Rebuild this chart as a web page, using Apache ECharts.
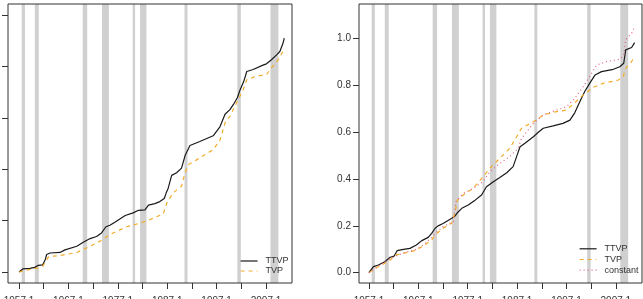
<!DOCTYPE html>
<html><head><meta charset="utf-8">
<script src="https://cdn.jsdelivr.net/npm/echarts@6/dist/echarts.min.js"></script>
<style>html,body{margin:0;padding:0;background:#fff}#c{width:643px;height:299px}</style>
</head><body><div id="c"></div>
<script>
// ---- data ----
const xTickYears = [1957,1962,1967,1972,1977,1982,1987,1992,1997,2002,2007];
const xLabelYears = [1957,1967,1977,1987,1997,2007];
const yTicksLeft = [0,1,2,3,4,5];
const yTicksRight = [0,0.2,0.4,0.6,0.8,1.0];
const recessions = [[1957.55,1958.2],[1960.2,1961.0],[1969.9,1970.8],[1973.8,1975.2],[1980.0,1980.5],[1981.5,1982.8],[1990.5,1991.1],[2001.2,2001.9],[2007.9,2009.5]];

const leftTTVPYears = [1957.0,1957.75,1959.2,1960.2,1960.9,1961.8,1962.3,1962.6,1963.3,1965.3,1966.3,1968.7,1970.0,1971.4,1972.7,1973.7,1974.6,1975.4,1976.4,1978.5,1980.1,1981.2,1982.5,1983.2,1984.5,1985.5,1986.4,1986.8,1987.2,1987.9,1988.9,1989.9,1990.6,1991.6,1993.6,1996.3,1997.7,1998.7,1999.7,2000.4,2001.2,2001.7,2002.5,2003.1,2004.4,2006.5,2007.1,2008.1,2009.2,2009.8,2010.4,2010.7];
const leftTTVPValues = [0,0.06,0.07,0.09,0.13,0.14,0.24,0.34,0.37,0.38,0.43,0.50,0.58,0.65,0.69,0.76,0.88,0.91,0.97,1.10,1.15,1.20,1.21,1.30,1.33,1.37,1.43,1.54,1.63,1.88,1.93,2.02,2.26,2.46,2.54,2.65,2.83,3.07,3.16,3.26,3.39,3.53,3.71,3.90,3.94,4.03,4.05,4.13,4.23,4.29,4.44,4.55];
const leftTVPYears = [1957.0,1959.2,1960.9,1961.8,1962.3,1963.0,1965.3,1968.7,1970.7,1973.4,1975.4,1978.8,1981.5,1983.5,1986.2,1986.9,1988.2,1989.9,1990.6,1991.3,1993.6,1996.3,1997.7,1998.7,1999.7,2001.2,2002.4,2003.1,2005.1,2007.1,2008.1,2009.5,2010.7];
const leftTVPValues = [0,0.05,0.08,0.11,0.19,0.30,0.32,0.38,0.47,0.60,0.73,0.88,0.95,1.02,1.13,1.34,1.54,1.67,1.93,2.09,2.22,2.38,2.57,2.90,3.03,3.32,3.55,3.74,3.81,3.84,3.97,4.13,4.34];

const rightTTVPYears = [1957.0,1957.9,1958.9,1960.2,1961.3,1962.1,1962.7,1964.0,1965.3,1966.6,1967.7,1969.0,1969.7,1970.4,1971.0,1972.0,1973.7,1974.4,1974.9,1975.8,1977.1,1978.5,1979.8,1980.8,1982.2,1983.5,1984.9,1986.2,1986.9,1987.6,1988.6,1990.3,1991.3,1992.3,1994.3,1996.3,1997.7,1998.7,1999.7,2000.7,2001.7,2002.8,2004.1,2006.5,2007.8,2008.6,2009.0,2010.2,2010.8];
const rightTTVPValues = [0,0.026,0.033,0.047,0.066,0.071,0.094,0.10,0.104,0.118,0.137,0.151,0.168,0.19,0.20,0.21,0.232,0.242,0.256,0.275,0.289,0.31,0.332,0.367,0.389,0.407,0.427,0.453,0.496,0.538,0.553,0.581,0.60,0.617,0.627,0.638,0.652,0.684,0.73,0.774,0.809,0.845,0.859,0.869,0.88,0.895,0.952,0.962,0.983];
const rightTVPYears = [1957.0,1958.9,1960.2,1961.3,1962.3,1964.0,1966.3,1968.0,1969.7,1970.4,1972.0,1973.7,1974.4,1974.9,1976.1,1978.1,1980.1,1981.5,1983.5,1985.5,1986.9,1987.9,1990.3,1992.3,1995.0,1997.0,1998.4,2000.4,2002.4,2004.4,2007.5,2008.5,2009.0,2010.2,2010.8];
const rightTVPValues = [0,0.026,0.04,0.054,0.075,0.083,0.094,0.114,0.14,0.161,0.19,0.211,0.254,0.31,0.332,0.36,0.41,0.446,0.489,0.531,0.581,0.617,0.645,0.674,0.688,0.695,0.721,0.759,0.792,0.809,0.823,0.838,0.873,0.902,0.926];
const rightConstYears = [1957.0,1958.9,1961.3,1964.0,1966.3,1968.0,1969.7,1970.4,1972.0,1974.1,1974.6,1976.1,1978.1,1980.1,1981.5,1983.5,1985.5,1987.2,1987.9,1990.3,1992.3,1995.0,1997.0,1998.4,2000.4,2001.7,2003.1,2005.1,2007.8,2008.6,2009.0,2010.2,2010.8];
const rightConstValues = [0,0.028,0.061,0.085,0.097,0.118,0.151,0.168,0.197,0.218,0.303,0.339,0.36,0.389,0.432,0.467,0.496,0.531,0.574,0.638,0.674,0.695,0.709,0.738,0.795,0.838,0.887,0.902,0.912,0.93,0.994,1.023,1.051];

// ---- chart ----
const pairs = (xs, ys) => xs.map((x, i) => [x, ys[i]]);
const FONT = '"Liberation Sans", Arial, sans-serif';
const AX = '#333';
const C_TTVP = '#1a1a1a', C_TVP = '#f2ac2a', C_CONST = '#e4607e';

function xAxisDef(gi, min, max) {
  return {
    type: 'value', gridIndex: gi, min: min, max: max,
    splitLine: {show: false},
    axisLine: {show: false, onZero: false},
    axisTick: {show: true, inside: false, length: 6, lineStyle: {color: AX}, customValues: xTickYears},
    axisLabel: {show: true, margin: 13, fontSize: 10, fontFamily: FONT, color: AX,
      customValues: xLabelYears, formatter: v => v + '.1'}
  };
}
function yAxisDef(gi, min, max, ticks, showLabels) {
  return {
    type: 'value', gridIndex: gi, min: min, max: max,
    splitLine: {show: false},
    axisLine: {show: false, onZero: false},
    axisTick: {show: true, inside: false, length: 6, lineStyle: {color: AX}, customValues: ticks},
    axisLabel: {show: showLabels, margin: 8, fontSize: 10, fontFamily: FONT, color: AX,
      customValues: ticks, formatter: v => v.toFixed(1)}
  };
}
function bands() {
  return {
    silent: true,
    itemStyle: {color: '#d0d0d0'},
    data: recessions.map(r => [{xAxis: r[0]}, {xAxis: r[1]}])
  };
}
function lineS(name, xi, data, color, dash) {
  return {
    name: name, type: 'line', xAxisIndex: xi, yAxisIndex: xi,
    data: data, showSymbol: false, symbol: 'none', smooth: false,
    lineStyle: {color: color, width: 1.2, type: dash || 'solid'},
    itemStyle: {color: color},
    z: 3
  };
}
const legendBase = {
  orient: 'vertical', padding: 0, itemWidth: 17, itemHeight: 10,
  itemStyle: {opacity: 0},
  lineStyle: {width: 1.2},
  textStyle: {fontSize: 9, fontFamily: FONT, color: AX, padding: [0,0,0,3]},
  selectedMode: false
};

const chart = echarts.init(document.getElementById('c'), null, {renderer: 'canvas'});
chart.setOption({
  animation: false,
  backgroundColor: '#fff',
  grid: [
    {left: 8, top: 4, width: 284, height: 279, show: true, borderColor: AX, borderWidth: 1, backgroundColor: 'transparent', z: 10, outerBoundsMode: 'none', containLabel: false},
    {left: 359, top: 4, width: 283, height: 279, show: true, borderColor: AX, borderWidth: 1, backgroundColor: 'transparent', z: 10, outerBoundsMode: 'none', containLabel: false}
  ],
  xAxis: [xAxisDef(0, 1954.77, 2012.26), xAxisDef(1, 1954.98, 2012.3)],
  yAxis: [yAxisDef(0, -0.214, 5.214, yTicksLeft, false), yAxisDef(1, -0.044, 1.148, yTicksRight, true)],
  legend: [
    Object.assign({}, legendBase, {left: 240, top: 256.5, itemGap: 1, data: ['TTVP', 'TVP']}),
    Object.assign({}, legendBase, {left: 579, top: 244.3, itemGap: 1.7, data: ['TTVP', 'TVP', 'constant']})
  ],
  series: [
    {type: 'line', xAxisIndex: 0, yAxisIndex: 0, data: [], markArea: bands(), z: 1},
    {type: 'line', xAxisIndex: 1, yAxisIndex: 1, data: [], markArea: bands(), z: 1},
    lineS('TTVP', 0, pairs(leftTTVPYears, leftTTVPValues), C_TTVP),
    lineS('TVP', 0, pairs(leftTVPYears, leftTVPValues), C_TVP, [4, 4]),
    lineS('TTVP', 1, pairs(rightTTVPYears, rightTTVPValues), C_TTVP),
    lineS('TVP', 1, pairs(rightTVPYears, rightTVPValues), C_TVP, [4, 4]),
    lineS('constant', 1, pairs(rightConstYears, rightConstValues), C_CONST, [1, 3])
  ]
});
</script></body></html>
